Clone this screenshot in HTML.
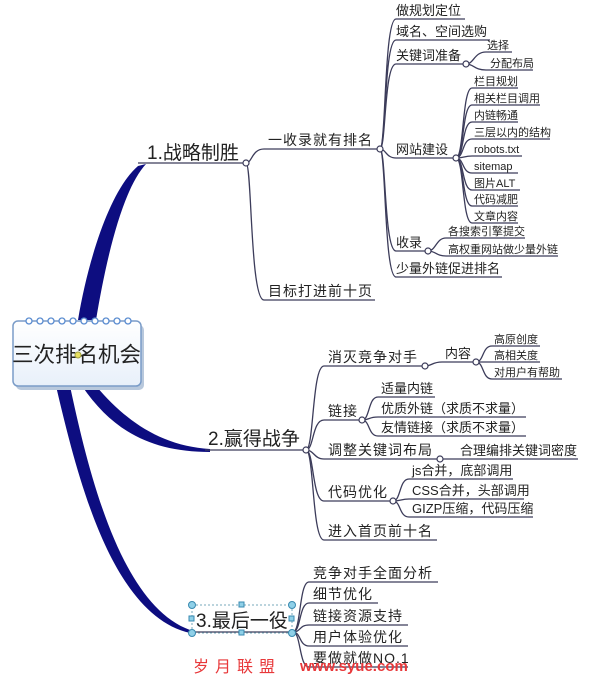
<!DOCTYPE html>
<html><head><meta charset="utf-8"><style>
html,body{margin:0;padding:0;background:#fff;}
svg text{font-family:"Liberation Sans","Noto Sans CJK SC",sans-serif;fill:#222;}
.c{fill:none;stroke:#3c3c5a;stroke-width:1.3;}
.s{font-size:11px;}
.m{font-size:13px;}
.l{font-size:14px;letter-spacing:1px;}
.b{font-size:19px;}
.n{fill:#fff;stroke:#3c3c5a;stroke-width:1.2;}
</style></head><body>
<svg width="600" height="679" viewBox="0 0 600 679" xmlns="http://www.w3.org/2000/svg">
<!-- main thick branches -->
<path d="M78 320 C88 260 110 190 138 166 L146 164 C122 190 106 260 96 320 Z" fill="#0d0d80"/>
<path d="M96 386 C125 420 160 446 210 449 L210 452 C150 452 112 430 82 386 Z" fill="#0d0d80"/>
<path d="M70 386 C88 470 120 605 190 630 L190 633 C112 615 78 480 56 386 Z" fill="#0d0d80"/>
<!-- main underlines -->
<path class="c" d="M138 163 L246 163"/>
<path class="c" d="M205 450 L306 450"/>
<path class="c" d="M188 632 L293 632"/>
<text class="b" x="147" y="159">1.战略制胜</text>
<text class="b" x="208" y="445">2.赢得战争</text>
<text class="b" x="196" y="627">3.最后一役</text>

<!-- branch 1 -->
<path class="c" d="M246 163 C252 163 252 149 264 149 L378 149"/>
<path class="c" d="M246 163 C252 163 250 300 264 300 L375 300"/>
<text class="l" x="268" y="145">一收录就有排名</text>
<text class="l" x="268" y="296">目标打进前十页</text>

<path class="c" d="M380 149 C386 149 384 19 396 19 L465 19"/>
<path class="c" d="M380 149 C386 149 384 40 396 40 L490 40"/>
<path class="c" d="M380 149 C386 149 384 64 396 64 L466 64"/>
<path class="c" d="M380 149 C386 149 386 158 396 158 L456 158"/>
<path class="c" d="M380 149 C386 149 384 251 396 251 L428 251"/>
<path class="c" d="M380 149 C386 149 384 277 396 277 L502 277"/>
<text class="m" x="396" y="15">做规划定位</text>
<text class="m" x="396" y="36">域名、空间选购</text>
<text class="m" x="396" y="60">关键词准备</text>
<text class="m" x="396" y="154">网站建设</text>
<text class="m" x="396" y="247">收录</text>
<text class="m" x="396" y="273">少量外链促进排名</text>

<path class="c" d="M466 64 C474 64 474 52 486 52 L512 52"/>
<path class="c" d="M466 64 C474 64 474 70 486 70 L533 70"/>
<text class="s" x="487" y="49">选择</text>
<text class="s" x="490" y="67">分配布局</text>

<g>
<path class="c" d="M456 158 C464 158 462 88 472 88 L518 88"/>
<path class="c" d="M456 158 C464 158 462 105 472 105 L540 105"/>
<path class="c" d="M456 158 C464 158 462 122 472 122 L518 122"/>
<path class="c" d="M456 158 C464 158 462 139 472 139 L550 139"/>
<path class="c" d="M456 158 C464 158 464 156 472 156 L522 156"/>
<path class="c" d="M456 158 C464 158 462 173 472 173 L518 173"/>
<path class="c" d="M456 158 C464 158 462 190 472 190 L520 190"/>
<path class="c" d="M456 158 C464 158 462 206 472 206 L518 206"/>
<path class="c" d="M456 158 C464 158 462 223 472 223 L518 223"/>
<text class="s" x="474" y="85">栏目规划</text>
<text class="s" x="474" y="102">相关栏目调用</text>
<text class="s" x="474" y="119">内链畅通</text>
<text class="s" x="474" y="136">三层以内的结构</text>
<text class="s" x="474" y="153">robots.txt</text>
<text class="s" x="474" y="170">sitemap</text>
<text class="s" x="474" y="187">图片ALT</text>
<text class="s" x="474" y="203">代码减肥</text>
<text class="s" x="474" y="220">文章内容</text>
</g>
<path class="c" d="M428 251 C436 251 436 238 446 238 L525 238"/>
<path class="c" d="M428 251 C436 251 436 256 446 256 L558 256"/>
<text class="s" x="448" y="235">各搜索引擎提交</text>
<text class="s" x="448" y="253">高权重网站做少量外链</text>

<!-- branch 2 -->
<path class="c" d="M306 450 C314 450 312 366 324 366 L425 366"/>
<path class="c" d="M306 450 C314 450 312 420 324 420 L362 420"/>
<path class="c" d="M306 450 C314 450 314 459 324 459 L440 459"/>
<path class="c" d="M306 450 C314 450 312 501 324 501 L393 501"/>
<path class="c" d="M306 450 C314 450 312 540 324 540 L437 540"/>
<text class="l" x="328" y="362">消灭竞争对手</text>
<text class="l" x="328" y="416">链接</text>
<text class="l" x="328" y="455">调整关键词布局</text>
<text class="l" x="328" y="497">代码优化</text>
<text class="l" x="328" y="536">进入首页前十名</text>

<path class="c" d="M425 366 C432 366 432 362 442 362 L476 362"/>
<text class="m" x="445" y="358">内容</text>
<path class="c" d="M476 362 C484 362 482 346 492 346 L540 346"/>
<path class="c" d="M476 362 C484 362 484 362 492 362 L540 362"/>
<path class="c" d="M476 362 C484 362 482 379 492 379 L562 379"/>
<text class="s" x="494" y="343">高原创度</text>
<text class="s" x="494" y="359">高相关度</text>
<text class="s" x="494" y="376">对用户有帮助</text>

<path class="c" d="M362 420 C370 420 368 397 378 397 L435 397"/>
<path class="c" d="M362 420 C370 420 368 417 378 417 L526 417"/>
<path class="c" d="M362 420 C370 420 368 436 378 436 L526 436"/>
<text class="m" x="381" y="393">适量内链</text>
<text class="m" x="381" y="413">优质外链（求质不求量）</text>
<text class="m" x="381" y="432">友情链接（求质不求量）</text>

<path class="c" d="M440 459 C448 459 448 459 458 459 L578 459"/>
<text class="m" x="460" y="455">合理编排关键词密度</text>

<path class="c" d="M393 501 C401 501 399 479 409 479 L513 479"/>
<path class="c" d="M393 501 C401 501 401 499 409 499 L524 499"/>
<path class="c" d="M393 501 C401 501 399 517 409 517 L533 517"/>
<text class="m" x="412" y="475">js合并，底部调用</text>
<text class="m" x="412" y="495">CSS合并，头部调用</text>
<text class="m" x="412" y="513">GIZP压缩，代码压缩</text>

<!-- branch 3 -->
<path class="c" d="M293 632 C301 632 299 582 309 582 L438 582"/>
<path class="c" d="M293 632 C301 632 299 603 309 603 L378 603"/>
<path class="c" d="M293 632 C301 632 299 625 309 625 L408 625"/>
<path class="c" d="M293 632 C301 632 299 646 309 646 L408 646"/>
<path class="c" d="M293 632 C301 632 299 667 309 667 L408 667"/>
<text class="l" x="313" y="578">竞争对手全面分析</text>
<text class="l" x="313" y="599">细节优化</text>
<text class="l" x="313" y="621">链接资源支持</text>
<text class="l" x="313" y="642">用户体验优化</text>
<text class="l" x="313" y="663">要做就做NO.1</text>

<!-- selection handles -->
<rect x="192" y="605" width="100" height="28" fill="none" stroke="#7ab" stroke-dasharray="2,2"/>
<g fill="#8fd0e8" stroke="#3a8ab0" stroke-width="1">
<circle cx="192" cy="605" r="3.5"/><circle cx="292" cy="605" r="3.5"/>
<circle cx="192" cy="633" r="3.5"/><circle cx="292" cy="633" r="3.5"/>
<rect x="239" y="602" width="5" height="5"/><rect x="239" y="630" width="5" height="5"/>
<rect x="189" y="616" width="5" height="5"/><rect x="289" y="616" width="5" height="5"/>
</g>

<!-- nodes -->
<circle class="n" cx="246" cy="163" r="3"/>
<circle class="n" cx="380" cy="149" r="3"/>
<circle class="n" cx="466" cy="64" r="3"/>
<circle class="n" cx="456" cy="158" r="3"/>
<circle class="n" cx="428" cy="251" r="3"/>
<circle class="n" cx="306" cy="450" r="3"/>
<circle class="n" cx="425" cy="366" r="3"/>
<circle class="n" cx="476" cy="362" r="3"/>
<circle class="n" cx="362" cy="420" r="3"/>
<circle class="n" cx="440" cy="459" r="3"/>
<circle class="n" cx="393" cy="501" r="3"/>

<!-- root -->
<defs><linearGradient id="g" x1="0" y1="0" x2="0" y2="1"><stop offset="0" stop-color="#ffffff"/><stop offset="1" stop-color="#e8f0fa"/></linearGradient></defs>
<rect x="16" y="325" width="128" height="65" rx="5" fill="#b8c8dc"/>
<rect x="13" y="321" width="128" height="65" rx="5" fill="url(#g)" stroke="#7a9cc8" stroke-width="1.5"/>
<g fill="#fff" stroke="#5a8cd0" stroke-width="1.3">
<circle cx="29" cy="321" r="3"/><circle cx="40" cy="321" r="3"/><circle cx="51" cy="321" r="3"/><circle cx="62" cy="321" r="3"/><circle cx="73" cy="321" r="3"/><circle cx="84" cy="321" r="3"/><circle cx="95" cy="321" r="3"/><circle cx="106" cy="321" r="3"/><circle cx="117" cy="321" r="3"/><circle cx="128" cy="321" r="3"/>
</g>
<text x="12" y="362" style="font-size:21.5px">三次排名机会</text>
<circle cx="78" cy="355" r="3" fill="#e8e060" stroke="#a0a040"/>

<!-- watermark -->
<text x="193" y="672" style="font-size:16px;fill:#e8383a;letter-spacing:6px">岁月联盟</text>
<text x="300" y="671" style="font-size:15px;fill:#e8383a;font-weight:bold">www.syue.com</text>
</svg>
</body></html>
